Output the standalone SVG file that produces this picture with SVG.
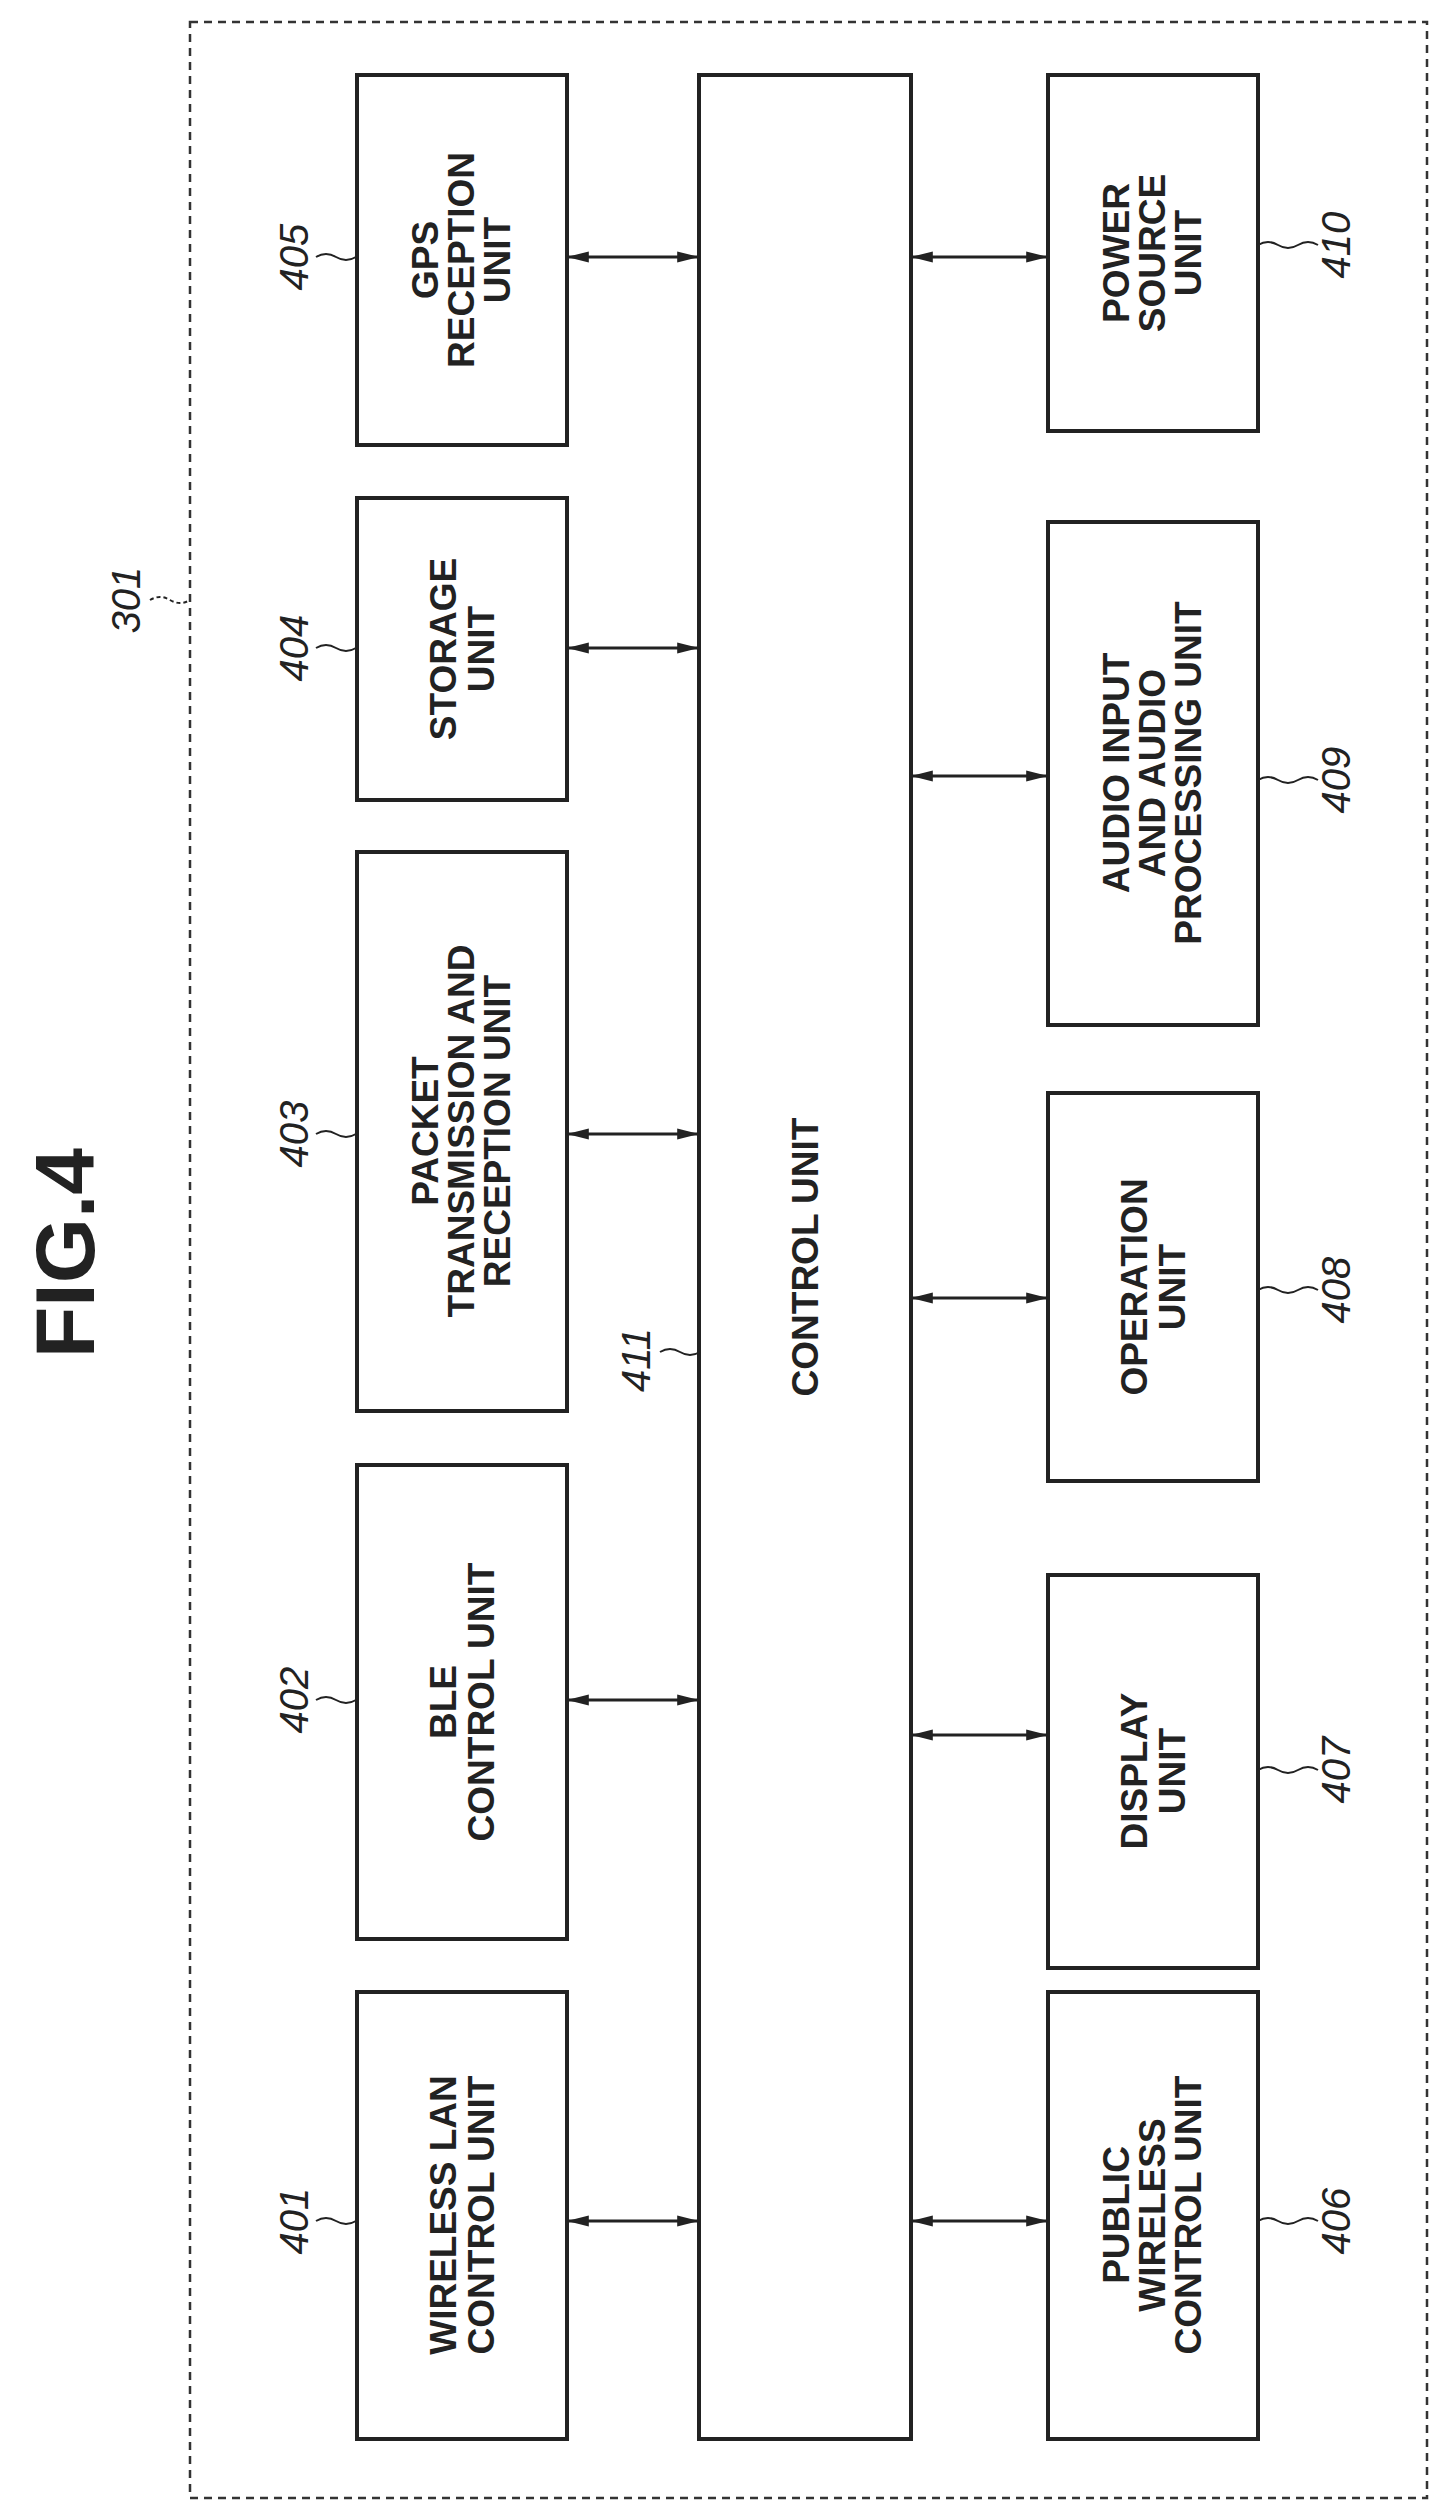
<svg xmlns="http://www.w3.org/2000/svg" width="1446" height="2518" viewBox="0 0 1446 2518">
<defs>
<marker id="a" viewBox="0 0 10 10" refX="9" refY="5" markerWidth="22" markerHeight="14" orient="auto-start-reverse" markerUnits="userSpaceOnUse" preserveAspectRatio="none"><path d="M0,1 L10,5 L0,9 Z" fill="#222"/></marker>
<style>
.b{fill:#fff;stroke:#222;stroke-width:4}
.t{font-family:"Liberation Sans",Arial,sans-serif;font-size:37px;font-weight:bold;fill:#222;text-anchor:middle}
.n{font-family:"Liberation Sans",Arial,sans-serif;font-size:40px;font-style:italic;fill:#222;text-anchor:middle}
.c line{stroke:#222;stroke-width:3;marker-start:url(#a);marker-end:url(#a)}
.l{fill:none;stroke:#222;stroke-width:2}
</style>
</defs>
<rect width="1446" height="2518" fill="#fff"/>
<rect x="190" y="22" width="1237" height="2476" fill="none" stroke="#333" stroke-width="2.5" stroke-dasharray="8,6"/>
<text class="t" style="font-size:84px" transform="translate(94,1253) rotate(-90)">FIG.4</text>
<g id="n411"><rect class="b" x="699" y="75" width="212" height="2364"/><text class="t" transform="translate(818,1257) rotate(-90)">CONTROL UNIT</text></g>
<g id="n405"><rect class="b" x="357" y="75" width="210" height="370"/><text class="t" transform="translate(462,260) rotate(-90)"><tspan x="0" y="-24">GPS</tspan><tspan x="0" y="12">RECEPTION</tspan><tspan x="0" y="48">UNIT</tspan></text></g>
<g id="n404"><rect class="b" x="357" y="498" width="210" height="302"/><text class="t" transform="translate(462,649) rotate(-90)"><tspan x="0" y="-6">STORAGE</tspan><tspan x="0" y="32">UNIT</tspan></text></g>
<g id="n403"><rect class="b" x="357" y="852" width="210" height="559"/><text class="t" transform="translate(462,1131) rotate(-90)"><tspan x="0" y="-24">PACKET</tspan><tspan x="0" y="12">TRANSMISSION AND</tspan><tspan x="0" y="48">RECEPTION UNIT</tspan></text></g>
<g id="n402"><rect class="b" x="357" y="1465" width="210" height="474"/><text class="t" transform="translate(462,1702) rotate(-90)"><tspan x="0" y="-6">BLE</tspan><tspan x="0" y="32">CONTROL UNIT</tspan></text></g>
<g id="n401"><rect class="b" x="357" y="1992" width="210" height="447"/><text class="t" transform="translate(462,2215) rotate(-90)"><tspan x="0" y="-6">WIRELESS LAN</tspan><tspan x="0" y="32">CONTROL UNIT</tspan></text></g>
<g id="n410"><rect class="b" x="1048" y="75" width="210" height="356"/><text class="t" transform="translate(1153,253) rotate(-90)"><tspan x="0" y="-24">POWER</tspan><tspan x="0" y="12">SOURCE</tspan><tspan x="0" y="48">UNIT</tspan></text></g>
<g id="n409"><rect class="b" x="1048" y="522" width="210" height="503"/><text class="t" transform="translate(1153,773) rotate(-90)"><tspan x="0" y="-24">AUDIO INPUT</tspan><tspan x="0" y="12">AND AUDIO</tspan><tspan x="0" y="48">PROCESSING UNIT</tspan></text></g>
<g id="n408"><rect class="b" x="1048" y="1093" width="210" height="388"/><text class="t" transform="translate(1153,1287) rotate(-90)"><tspan x="0" y="-6">OPERATION</tspan><tspan x="0" y="32">UNIT</tspan></text></g>
<g id="n407"><rect class="b" x="1048" y="1575" width="210" height="393"/><text class="t" transform="translate(1153,1771) rotate(-90)"><tspan x="0" y="-6">DISPLAY</tspan><tspan x="0" y="32">UNIT</tspan></text></g>
<g id="n406"><rect class="b" x="1048" y="1992" width="210" height="447"/><text class="t" transform="translate(1153,2215) rotate(-90)"><tspan x="0" y="-24">PUBLIC</tspan><tspan x="0" y="12">WIRELESS</tspan><tspan x="0" y="48">CONTROL UNIT</tspan></text></g>
<g id="connectors" class="c">
<line x1="569" y1="257" x2="697" y2="257"/><line x1="569" y1="648" x2="697" y2="648"/><line x1="569" y1="1134" x2="697" y2="1134"/><line x1="569" y1="1700" x2="697" y2="1700"/><line x1="569" y1="2221" x2="697" y2="2221"/>
<line x1="913" y1="257" x2="1046" y2="257"/><line x1="913" y1="776" x2="1046" y2="776"/><line x1="913" y1="1298" x2="1046" y2="1298"/><line x1="913" y1="1735" x2="1046" y2="1735"/><line x1="913" y1="2221" x2="1046" y2="2221"/>
</g>
<g id="labels">
<text class="n" transform="translate(308,257) rotate(-90)">405</text><path class="l" d="M316,257 q10,-6 20,0 t20,0"/>
<text class="n" transform="translate(308,648) rotate(-90)">404</text><path class="l" d="M316,648 q10,-6 20,0 t20,0"/>
<text class="n" transform="translate(308,1134) rotate(-90)">403</text><path class="l" d="M316,1134 q10,-6 20,0 t20,0"/>
<text class="n" transform="translate(308,1700) rotate(-90)">402</text><path class="l" d="M316,1700 q10,-6 20,0 t20,0"/>
<text class="n" transform="translate(308,2221) rotate(-90)">401</text><path class="l" d="M316,2221 q10,-6 20,0 t20,0"/>
<text class="n" transform="translate(1350,245) rotate(-90)">410</text><path class="l" d="M1258,245 q10,-6 20,0 t20,0 t20,0"/>
<text class="n" transform="translate(1350,780) rotate(-90)">409</text><path class="l" d="M1258,780 q10,-6 20,0 t20,0 t20,0"/>
<text class="n" transform="translate(1350,1290) rotate(-90)">408</text><path class="l" d="M1258,1290 q10,-6 20,0 t20,0 t20,0"/>
<text class="n" transform="translate(1350,1770) rotate(-90)">407</text><path class="l" d="M1258,1770 q10,-6 20,0 t20,0 t20,0"/>
<text class="n" transform="translate(1350,2221) rotate(-90)">406</text><path class="l" d="M1258,2221 q10,-6 20,0 t20,0 t20,0"/>
<text class="n" transform="translate(140,600) rotate(-90)">301</text><path class="l" d="M150,600 q10,-6 20,0 t20,0" stroke-dasharray="4,3"/>
<text class="n" transform="translate(650,1360) rotate(-90)">411</text><path class="l" d="M660,1352 q10,-6 20,0 t20,0"/>
</g>
</svg>
